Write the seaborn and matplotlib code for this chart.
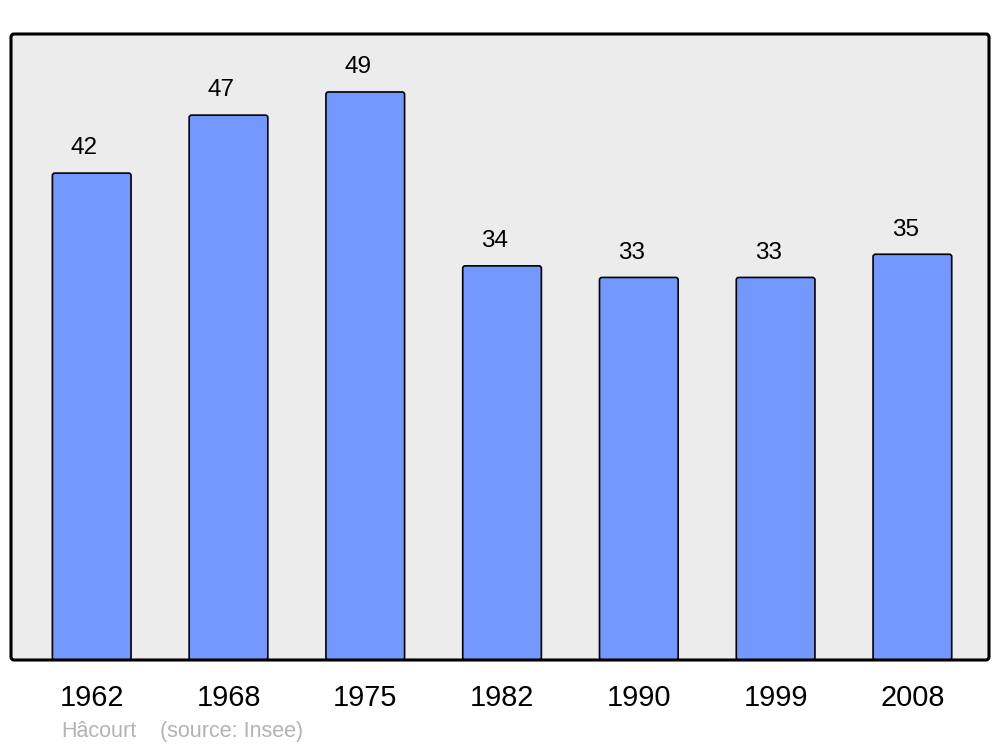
import matplotlib
matplotlib.use("Agg")
import matplotlib.pyplot as plt
import seaborn as sns
import pandas as pd
from matplotlib.patches import FancyBboxPatch
from matplotlib.transforms import IdentityTransform

years = ["1962", "1968", "1975", "1982", "1990", "1999", "2008"]
population = [42, 47, 49, 34, 33, 33, 35]
footer_name = "Hâcourt"
footer_source = "(source: Insee)"

sns.set_theme(style="white")
plt.rcParams['font.family'] = ['Liberation Sans', 'DejaVu Sans']

W, H, DPI = 1000, 747, 100
fig = plt.figure(figsize=(W / DPI, H / DPI), dpi=DPI)
fig.patch.set_facecolor("white")
ax = fig.add_axes([11 / W, (H - 660) / H, (989 - 11) / W, (660 - 34) / H])

df = pd.DataFrame({"year": years, "pop": population})
sns.barplot(data=df, x="year", y="pop", color="#7399ff", saturation=1,
            edgecolor="black", linewidth=1.2, width=0.575, ax=ax)

ax.set_xlim(-0.59, len(years) - 1 + 0.56)
ax.set_ylim(0, 54)
ax.set_facecolor("none")
for s in ax.spines.values():
    s.set_visible(False)
ax.set_xlabel("")
ax.set_ylabel("")
ax.set_yticks([])
ax.tick_params(axis="x", length=0, pad=17, labelsize=20.8, labelcolor="black")

fig.canvas.draw()
# rounded bars
xpx = ax.transData.transform([(0, 0), (1, 1)])
ux = xpx[1, 0] - xpx[0, 0]
uy = xpx[1, 1] - xpx[0, 1]
r_px = 2.5
for p in list(ax.patches):
    x, y, w, h = p.get_x(), p.get_y(), p.get_width(), p.get_height()
    fb = FancyBboxPatch((x, y), w, h,
                        boxstyle=f"round,pad=0,rounding_size={r_px / ux}",
                        mutation_aspect=ux / uy,
                        facecolor=p.get_facecolor(), edgecolor="black",
                        linewidth=1.2, zorder=2)
    p.set_visible(False)
    ax.add_patch(fb)
    ax.annotate(f"{h:g}", (x + w / 2, h), xytext=(-5.2, 13.5),
                textcoords="offset points", ha="center", va="baseline",
                fontsize=17.5, color="black")

# frame
bb = ax.get_window_extent()
for fc, ec, z in [("#ececec", "none", 0.5), ("none", "black", 5)]:
    fr = FancyBboxPatch((bb.x0, bb.y0), bb.width, bb.height,
                        boxstyle="round,pad=0,rounding_size=3",
                        transform=IdentityTransform(), facecolor=fc,
                        edgecolor=ec, linewidth=2.2, zorder=z, clip_on=False)
    ax.add_artist(fr)

fig.text(61 / W, 1 - 737 / H, footer_name, color="#b3b3b3", fontsize=15.5,
         ha="left", va="baseline")
fig.text(160 / W, 1 - 737 / H, footer_source, color="#b3b3b3", fontsize=15.5,
         ha="left", va="baseline")

fig.savefig("out.png", dpi=DPI)
